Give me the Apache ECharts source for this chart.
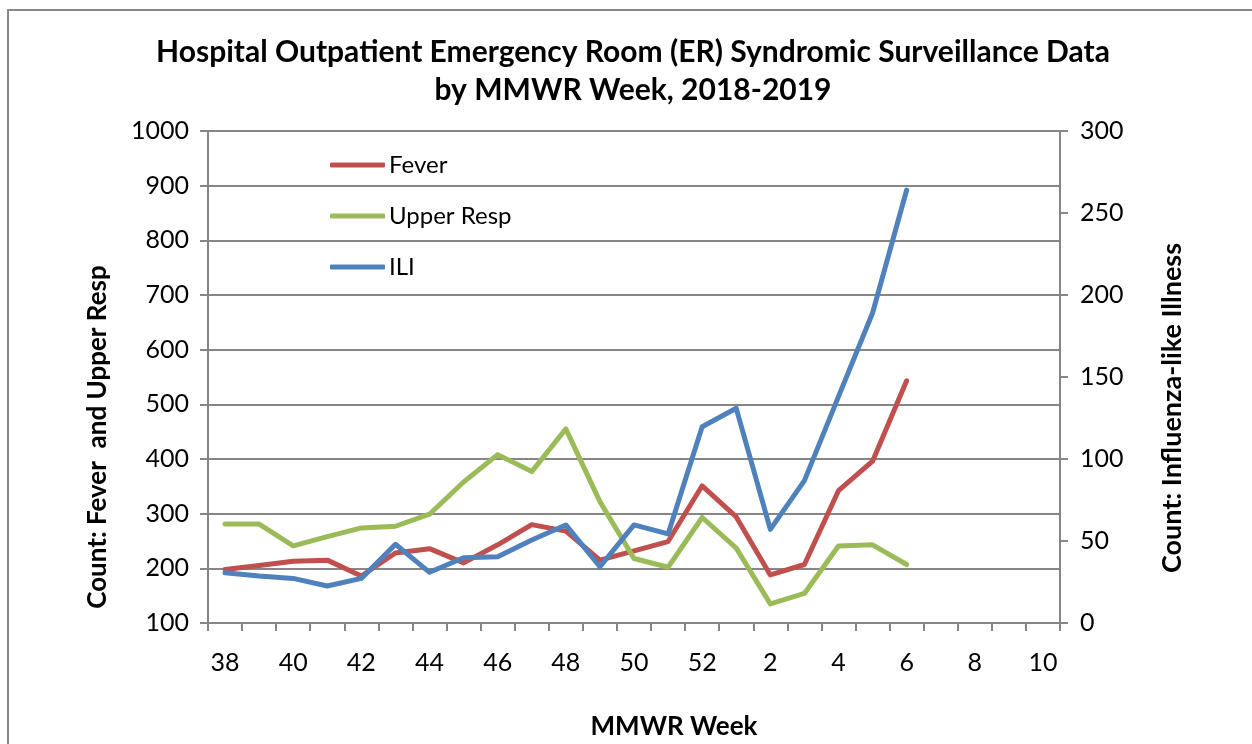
<!DOCTYPE html>
<html>
<head>
<meta charset="utf-8">
<script src="https://cdn.jsdelivr.net/npm/echarts@6/dist/echarts.min.js"></script>
<style>
html,body{margin:0;padding:0;background:#fff;}
#c{width:1252px;height:744px;}
</style>
</head>
<body>
<div id="c"></div>
<script>
const weeks = ['38','39','40','41','42','43','44','45','46','47','48','49','50','51','52','1','2','3','4','5','6','7','8','9','10'];
const fever = [198,205,213,215,186,228,236,210,243,280,268,215,232,249,351,294,188,207,342,396,543,null,null,null,null];
const upperResp = [281,281,241,258,274,277,299,358,408,377,455,322,218,202,293,237,135,154,241,243,207,null,null,null,null];
const ili = [30.7,28.7,27.2,22.6,27.2,48,30.9,39.8,40.4,50.6,59.8,34.3,59.8,54.3,119.7,130.9,57.1,86.8,138,189,264,null,null,null,null];

const FONT = 'Lato';
const GRID = '#868686';
const chart = echarts.init(document.getElementById('c'));
chart.setOption({
  backgroundColor: '#fff',
  animation: false,
  graphic: [
    {type:'rect', shape:{x:8,y:10,width:1400,height:900}, style:{fill:'none', stroke:'#878787', lineWidth:2}, z:-1},
    {type:'text', x:633, y:52, style:{text:'Hospital Outpatient Emergency Room (ER) Syndromic Surveillance Data', font:'bold 30px '+FONT, fill:'#000', align:'center', verticalAlign:'middle'}},
    {type:'text', x:633, y:90, style:{text:'by MMWR Week, 2018-2019', font:'bold 30px '+FONT, fill:'#000', align:'center', verticalAlign:'middle'}},
    {type:'text', x:98, y:437, rotation:Math.PI/2, style:{text:'Count: Fever  and Upper Resp', font:'bold 26px '+FONT, fill:'#000', align:'center', verticalAlign:'middle'}},
    {type:'text', x:1172, y:408, rotation:Math.PI/2, style:{text:'Count: Influenza-like Illness', font:'bold 27px '+FONT, fill:'#000', align:'center', verticalAlign:'middle'}},
    {type:'text', x:674, y:727, style:{text:'MMWR Week', font:'bold 26px '+FONT, fill:'#000', align:'center', verticalAlign:'middle'}}
  ],
  legend: {
    orient:'vertical', left:330, top:153, padding:0, itemWidth:55, itemHeight:5, itemGap:27,
    icon:'roundRect',
    textStyle:{fontFamily:FONT, fontSize:24, color:'#000', padding:[0,0,0,-1]},
    data:['Fever','Upper Resp','ILI']
  },
  grid: {left:208, right:192, top:131, bottom:121},
  xAxis: {
    type:'category', data:weeks, boundaryGap:true,
    axisLine:{lineStyle:{color:GRID, width:2}},
    axisTick:{show:true, interval:0, length:8, lineStyle:{color:GRID, width:2}},
    axisLabel:{interval:1, color:'#000', fontFamily:FONT, fontSize:25, margin:27}
  },
  yAxis: [
    {type:'value', min:100, max:1000, interval:100, position:'left',
     axisLine:{show:true, lineStyle:{color:GRID, width:2}},
     axisTick:{show:true, length:8, lineStyle:{color:GRID, width:2}},
     splitLine:{show:true, lineStyle:{color:GRID, width:2}},
     axisLabel:{color:'#000', fontFamily:FONT, fontSize:25, margin:19, formatter:v=>String(v)}},
    {type:'value', min:0, max:300, interval:50, position:'right',
     axisLine:{show:true, lineStyle:{color:GRID, width:2}},
     axisTick:{show:true, length:8, lineStyle:{color:GRID, width:2}},
     splitLine:{show:false},
     axisLabel:{color:'#000', fontFamily:FONT, fontSize:25, margin:20, formatter:v=>String(v)}}
  ],
  series: [
    {name:'Fever', type:'line', data:fever, yAxisIndex:0, symbol:'none', color:'#C0504D', lineStyle:{width:5, color:'#C0504D', cap:'round', join:'round'}},
    {name:'Upper Resp', type:'line', data:upperResp, yAxisIndex:0, symbol:'none', color:'#9BBB59', lineStyle:{width:5, color:'#9BBB59', cap:'round', join:'round'}},
    {name:'ILI', type:'line', data:ili, yAxisIndex:1, symbol:'none', color:'#4F81BD', lineStyle:{width:5, color:'#4F81BD', cap:'round', join:'round'}}
  ]
});
</script>
</body>
</html>
